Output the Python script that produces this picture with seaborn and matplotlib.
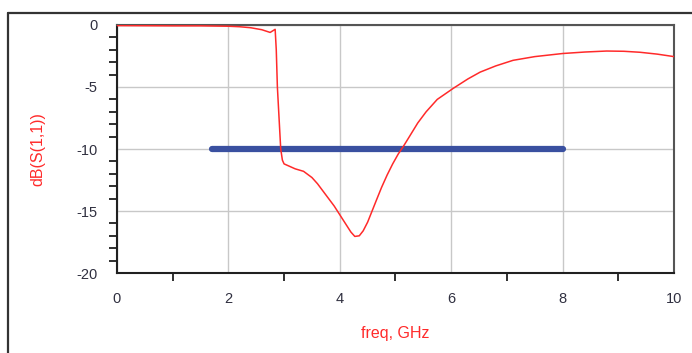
import matplotlib
matplotlib.use("Agg")
import matplotlib.pyplot as plt
from matplotlib.lines import Line2D
from matplotlib.ticker import MultipleLocator
import pandas as pd
import seaborn as sns

# S11 curve (GHz, dB)
freq = [0.0, 0.5, 1.0, 1.5, 2.0, 2.2, 2.4, 2.6, 2.75, 2.84, 2.86, 2.88, 2.91, 2.94,
        2.97, 3.0, 3.1, 3.2, 3.35, 3.5, 3.6, 3.7, 3.8, 3.9, 4.0, 4.1, 4.2, 4.27,
        4.35, 4.42, 4.5, 4.58, 4.66, 4.75, 4.85, 4.95, 5.05, 5.14, 5.25, 5.4, 5.55,
        5.75, 6.04, 6.3, 6.52, 6.8, 7.11, 7.5, 8.0, 8.4, 8.79, 9.1, 9.39, 9.7, 10.0]
s11 = [-0.05, -0.06, -0.07, -0.07, -0.1, -0.14, -0.22, -0.38, -0.6, -0.35, -2.0,
       -5.0, -7.5, -10.0, -10.9, -11.2, -11.4, -11.6, -11.8, -12.3, -12.8, -13.4,
       -14.0, -14.6, -15.3, -16.0, -16.7, -17.05, -17.0, -16.6, -15.9, -15.0, -14.1,
       -13.1, -12.1, -11.2, -10.4, -9.8, -9.0, -7.9, -7.0, -6.0, -5.1, -4.35, -3.8,
       -3.3, -2.85, -2.55, -2.3, -2.18, -2.1, -2.12, -2.2, -2.35, -2.55]

# -10 dB reference band
band_freq = [1.7, 8.0]
band_db = [-10, -10]

curve = pd.DataFrame({"freq": freq, "s11": s11})
band = pd.DataFrame({"freq": band_freq, "db": band_db})

sns.set_style("white")
plt.rcParams["font.family"] = ["Liberation Sans", "DejaVu Sans"]
plt.rcParams["axes.unicode_minus"] = False

fig = plt.figure(figsize=(6.92, 3.53), dpi=100)
ax = fig.add_axes([0.169, 0.2266, 0.805, 0.7026])

sns.lineplot(data=band, x="freq", y="db", ax=ax, color="#3a50a0", linewidth=4.5,
             solid_capstyle="round", zorder=3)
sns.lineplot(data=curve, x="freq", y="s11", ax=ax, color="#ff2a2a", linewidth=1.1,
             zorder=4)

ax.set_xlim(0, 10)
ax.set_ylim(-20, 0)
ax.xaxis.set_major_locator(MultipleLocator(2))
ax.xaxis.set_minor_locator(MultipleLocator(1))
ax.yaxis.set_major_locator(MultipleLocator(5))
ax.yaxis.set_minor_locator(MultipleLocator(1))

ax.grid(True, which="major", color="#c8c8c8", linewidth=1.0)
ax.set_axisbelow(True)

for side in ["left", "bottom"]:
    ax.spines[side].set_color("#202020")
    ax.spines[side].set_linewidth(1.5)
for side in ["top", "right"]:
    ax.spines[side].set_color("#555555")
    ax.spines[side].set_linewidth(1.5)

ax.tick_params(axis="y", which="major", direction="out", length=14, width=1.3,
               color="#202020", pad=0, labelsize=10.5, labelcolor="#303040")
ax.tick_params(axis="y", which="minor", direction="out", length=6, width=1.3,
               color="#202020", left=True)
ax.tick_params(axis="x", which="major", direction="out", length=9, width=1.3,
               color="#202020", pad=5, labelsize=10.5, labelcolor="#303040")
ax.tick_params(axis="x", which="minor", direction="out", length=6, width=1.3,
               color="#202020", bottom=True)

ax.set_xlabel("freq, GHz", color="#ff2a2a", fontsize=11.5, labelpad=14)
ax.set_ylabel("dB(S(1,1))", color="#ff2a2a", fontsize=11.5, labelpad=22)

# outer frame (top and left edges visible)
fig.add_artist(Line2D([0.012, 0.012], [0.0, 0.964], color="#333333", linewidth=1.6))
fig.add_artist(Line2D([0.012, 1.0], [0.964, 0.964], color="#333333", linewidth=1.6))

fig.savefig("out.png", dpi=100)
